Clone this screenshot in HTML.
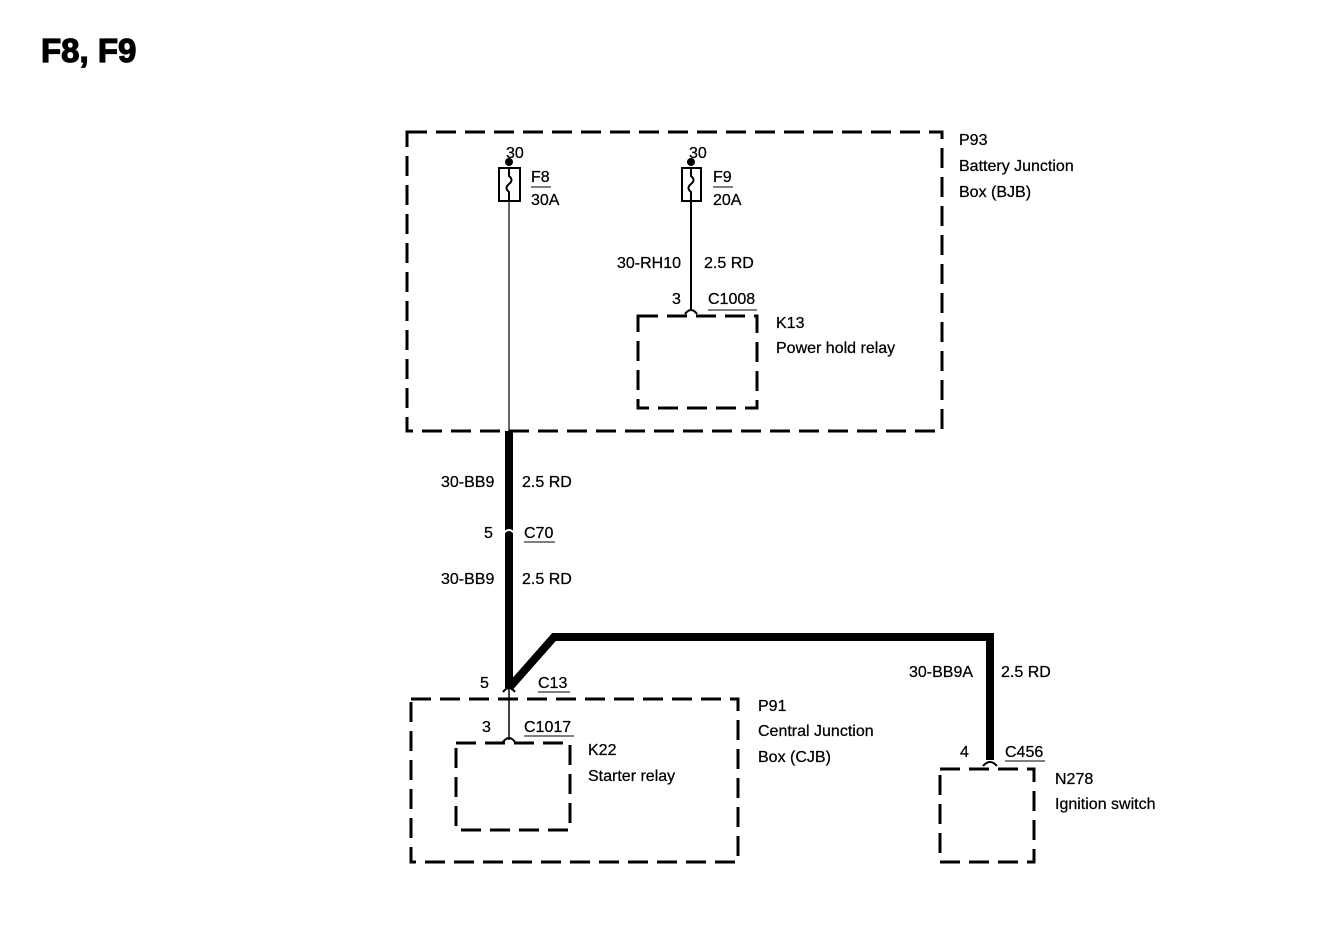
<!DOCTYPE html>
<html><head><meta charset="utf-8"><style>
html,body{margin:0;padding:0;background:#fff;}
svg{display:block}
text{font-family:"Liberation Sans",Arial,sans-serif;font-size:16px;fill:#000;stroke:#000;stroke-width:0.25}
</style></head><body>
<svg width="1328" height="936" viewBox="0 0 1328 936" xmlns="http://www.w3.org/2000/svg">
<text x="41" y="62" style="font-size:33px;font-weight:bold;stroke-width:1.2">F8, F9</text>
<g fill="none" stroke="#000" stroke-width="3" stroke-dasharray="20,9">
<rect x="407" y="132" width="535" height="299"/>
<rect x="638" y="316" width="119" height="92"/>
<rect x="411" y="699" width="327" height="163"/>
<rect x="456" y="743" width="114" height="87"/>
<rect x="940" y="769" width="94" height="93"/>
</g>
<g fill="none" stroke="#000" stroke-width="2">
<rect x="499" y="168" width="21" height="33"/>
<rect x="682" y="168" width="19" height="33"/>
<path d="M509 168 v8 q5 4 0 8 q-5 4 0 8 v9"/>
<path d="M691 168 v8 q5 4 0 8 q-5 4 0 8 v9"/>
</g>
<circle cx="509" cy="162" r="4"/><circle cx="691" cy="162" r="4"/>
<line x1="509" y1="201" x2="509" y2="431" stroke="#000" stroke-width="1.2"/>
<line x1="691" y1="201" x2="691" y2="310" stroke="#000" stroke-width="2"/>
<path d="M685 314 q6 -8 12 0" fill="none" stroke="#000" stroke-width="2"/>
<path d="M509 431 V688 M509 688 L554 637 H990 V760" fill="none" stroke="#000" stroke-width="8"/>
<line x1="509" y1="688" x2="509" y2="740" stroke="#000" stroke-width="1.5"/>
<path d="M503 692 q6 -8 12 0" fill="none" stroke="#000" stroke-width="2"/>
<path d="M503 742 q6 -8 12 0" fill="none" stroke="#000" stroke-width="2"/>
<path d="M503 534 q6 -8 12 0" fill="none" stroke="#fff" stroke-width="2"/>
<path d="M983 766 q7 -8 14 0" fill="none" stroke="#000" stroke-width="2"/>
<text x="506" y="158">30</text><text x="689" y="158">30</text>
<text x="531" y="182">F8</text><line x1="531" y1="187" x2="551" y2="187" stroke="#000"/>
<text x="531" y="205">30A</text>
<text x="713" y="182">F9</text><line x1="713" y1="187" x2="733" y2="187" stroke="#000"/>
<text x="713" y="205">20A</text>
<text x="617" y="268">30-RH10</text><text x="704" y="268">2.5 RD</text>
<text x="672" y="304">3</text><text x="708" y="304">C1008</text><line x1="708" y1="310" x2="757" y2="310" stroke="#000"/>
<text x="776" y="328">K13</text><text x="776" y="353">Power hold relay</text>
<text x="959" y="145">P93</text><text x="959" y="171">Battery Junction</text><text x="959" y="197">Box (BJB)</text>
<text x="441" y="487">30-BB9</text><text x="522" y="487">2.5 RD</text>
<text x="484" y="538">5</text><text x="524" y="538">C70</text><line x1="524" y1="542" x2="555" y2="542" stroke="#000"/>
<text x="441" y="584">30-BB9</text><text x="522" y="584">2.5 RD</text>
<text x="480" y="688">5</text><text x="538" y="688">C13</text><line x1="538" y1="692" x2="570" y2="692" stroke="#000"/>
<text x="482" y="732">3</text><text x="524" y="732">C1017</text><line x1="524" y1="736" x2="574" y2="736" stroke="#000"/>
<text x="588" y="781" dy="-26">K22</text><text x="588" y="781">Starter relay</text>
<text x="758" y="711">P91</text><text x="758" y="736">Central Junction</text><text x="758" y="762">Box (CJB)</text>
<text x="909" y="677">30-BB9A</text><text x="1001" y="677">2.5 RD</text>
<text x="960" y="757">4</text><text x="1005" y="757">C456</text><line x1="1005" y1="761" x2="1045" y2="761" stroke="#000"/>
<text x="1055" y="784">N278</text><text x="1055" y="809">Ignition switch</text>
</svg>
</body></html>
